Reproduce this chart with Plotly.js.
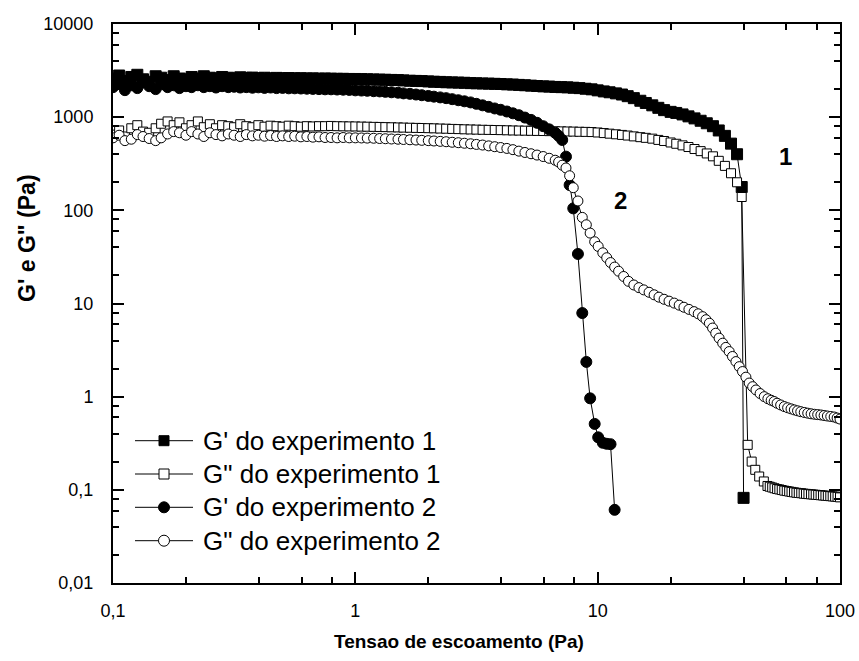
<!DOCTYPE html>
<html>
<head>
<meta charset="utf-8">
<script src="https://cdn.plot.ly/plotly-3.0.1.min.js"></script>
<style>html,body{margin:0;padding:0;background:#fff;}#chart{width:859px;height:661px;}</style>
</head>
<body>
<div id="chart"></div>
<script>
// ---- Experiment 1: stress (Pa) ----
const stress1 = [0.1,0.106,0.112,0.119,0.126,0.133,0.141,0.15,0.158,0.168,
  0.178,0.188,0.2,0.211,0.224,0.237,0.251,0.266,0.282,0.299,
  0.316,0.335,0.355,0.376,0.398,0.422,0.447,0.473,0.501,0.531,
  0.562,0.596,0.631,0.668,0.708,0.75,0.794,0.841,0.891,0.944,
  1,1.06,1.12,1.19,1.26,1.33,1.41,1.5,1.58,1.68,
  1.78,1.88,2,2.11,2.24,2.37,2.51,2.66,2.82,2.99,
  3.16,3.35,3.55,3.76,3.98,4.22,4.47,4.73,5.01,5.31,
  5.62,5.96,6.31,6.68,7.08,7.5,7.94,8.41,8.91,9.44,
  10,10.6,11.2,11.9,12.6,13.3,14.1,15,15.8,16.8,
  17.8,18.8,20,21.1,22.4,23.7,25.1,26.6,28.2,29.9,
  31.6,33.5,35.5,37.6,39.3,40.0,41.6,43.2,44.7,46.4,48.5,50.2,
  51.3,52.5,53.7,55.0,56.2,57.5,58.9,60.3,61.7,63.1,
  64.6,66.1,67.6,69.2,70.8,72.4,74.1,75.9,77.6,79.4,
  81.3,83.2,85.1,87.1,89.1,91.2,93.3,95.5,97.7,100];

// G' experiment 1 (Pa)
const gp1 = [2600,2800,2450,2700,2850,2550,2400,2750,2650,2500,
  2750,2600,2550,2700,2600,2750,2650,2600,2700,2650,
  2600,2680,2640,2660,2620,2650,2610,2640,2620,2630,
  2610,2620,2600,2610,2590,2600,2590,2580,2580,2570,
  2570,2560,2550,2540,2530,2520,2510,2500,2480,2460,
  2450,2440,2420,2400,2390,2370,2360,2350,2340,2320,
  2310,2300,2290,2280,2270,2250,2240,2220,2200,2180,
  2160,2140,2130,2110,2100,2090,2070,2050,2020,1990,
  1940,1890,1850,1800,1750,1680,1600,1500,1420,1340,
  1260,1190,1140,1110,1070,1020,970,915,860,800,
  720,630,520,400,178,0.082];

// G'' experiment 1 (Pa)
const gpp1 = [650,720,620,760,820,700,680,760,850,900,
  820,880,760,820,900,780,840,760,820,800,
  780,840,800,780,820,790,810,800,790,810,
  800,790,800,795,800,800,805,800,798,796,
  795,792,790,787,785,782,779,776,773,770,
  767,765,762,759,755,752,748,745,741,738,
  735,732,730,728,726,723,720,718,716,714,
  712,710,708,706,704,702,700,697,695,692,
  685,675,665,655,645,635,622,610,600,588,
  570,555,535,518,498,478,455,432,408,380,
  340,300,250,200,139,null,0.304,0.201,0.164,0.139,0.123,0.110,
  0.108,0.106,0.104,0.102,0.101,0.0995,0.098,0.097,0.096,0.095,
  0.094,0.093,0.0925,0.092,0.091,0.0905,0.090,0.0895,0.089,0.0885,
  0.088,0.0875,0.087,0.0865,0.086,0.0855,0.085,0.0845,0.084,0.083];

// ---- Experiment 2: stress (Pa) ----
const stress2 = [0.1,0.106,0.112,0.119,0.126,0.133,0.141,0.15,0.158,0.168,
  0.178,0.188,0.2,0.211,0.224,0.237,0.251,0.266,0.282,0.299,
  0.316,0.335,0.355,0.376,0.398,0.422,0.447,0.473,0.501,0.531,
  0.562,0.596,0.631,0.668,0.708,0.75,0.794,0.841,0.891,0.944,
  1,1.06,1.12,1.19,1.26,1.33,1.41,1.5,1.58,1.68,
  1.78,1.88,2,2.11,2.24,2.37,2.51,2.66,2.82,2.99,
  3.16,3.35,3.55,3.76,3.98,4.22,4.47,4.73,5.01,5.31,
  5.62,5.96,6.31,6.68,
  6.9,7.14,7.4,7.66,7.93,8.29,8.64,8.98,9.31,9.72,10.05,10.5,10.9,11.3,11.75,
  12.2,12.8,13.4,14.1,14.8,15.5,16.3,17.1,17.9,18.8,
  19.7,20.7,21.7,22.7,23.8,25.0,26.0,27.1,28.0,28.9,
  29.8,30.7,31.7,32.8,33.8,34.9,36.0,37.2,38.4,39.6,
  40.9,42.2,43.6,45.0,46.8,48.7,50.4,52.0,53.5,55.0,
  56.9,58.9,60.8,62.8,64.8,66.8,68.9,71.2,73.6,76.0,
  78.5,80.9,83.4,86.0,88.7,91.6,94.6,97.3,100];

// G' experiment 2 (Pa)
const gp2 = [2100,2300,1950,2200,2050,2350,2150,2000,2250,2100,
  2200,2050,2150,2100,2200,2100,2150,2080,2150,2100,
  2120,2080,2100,2070,2090,2060,2080,2050,2060,2040,
  2040,2030,2020,2010,2000,1990,1990,1980,1970,1960,
  1940,1930,1920,1900,1890,1870,1850,1830,1800,1780,
  1750,1720,1690,1660,1630,1600,1560,1520,1480,1440,
  1390,1340,1290,1240,1200,1150,1100,1050,990,935,
  870,800,740,680,
  630,569,377,187,105,34,7.9,2.36,0.96,0.51,0.366,0.32,0.312,0.309,0.061];

// G'' experiment 2 (Pa)
const gpp2 = [600,640,560,580,650,620,590,560,600,660,
  700,680,640,700,660,620,680,650,630,660,
  640,620,650,630,640,625,635,620,630,620,
  625,615,620,610,615,605,605,600,605,600,
  600,598,596,594,590,587,583,580,576,572,
  568,564,560,555,550,545,538,532,525,518,
  510,502,492,482,472,462,448,432,418,405,
  392,378,362,345,
  330,305,285,235,175,126,84,70,57,46,41,35,31,27.5,24.6,
  22.2,19.5,17.3,15.8,14.8,14.0,13.2,12.4,11.7,11.1,
  10.6,10.1,9.6,9.12,8.65,8.18,7.75,7.22,6.7,6.14,
  5.45,4.80,4.25,3.75,3.38,3.05,2.70,2.38,2.10,1.86,
  1.62,1.40,1.28,1.18,1.08,1.00,0.95,0.915,0.887,0.85,
  0.815,0.783,0.76,0.74,0.721,0.705,0.69,0.677,0.665,0.655,
  0.647,0.642,0.636,0.628,0.62,0.613,0.605,0.59,0.575];

const seriesNames = ["G' do experimento 1", 'G" do experimento 1', "G' do experimento 2", 'G" do experimento 2'];
const xTickVals = [0.1, 1, 10, 100];
const xTickText = ['0,1', '1', '10', '100'];
const yTickVals = [0.01, 0.1, 1, 10, 100, 1000, 10000];
const yTickText = ['0,01', '0,1', '1', '10', '100', '1000', '10000'];
const curveLabels = ['1', '2'];
const curveLabelX = [59.8, 12.4];
const curveLabelY = [374, 129];

// ---- styling / geometry (not data) ----
const W = 859, H = 661, ML = 113, MR = 19, MT = 24, MB = 78;
const PW = W - ML - MR, PH = H - MT - MB;
const px2x = p => (p - ML) / PW;          // pixel -> paper x
const py2y = p => (H - MB - p) / PH;      // pixel -> paper y

const markerStyles = [
  {symbol: 'square', size: 11, color: 'black', line: {color: 'black', width: 1}},
  {symbol: 'square', size: 9, color: 'white', line: {color: 'black', width: 1}},
  {symbol: 'circle', size: 11, color: 'black', line: {color: 'black', width: 1}},
  {symbol: 'circle', size: 10, color: 'white', line: {color: 'black', width: 1}}
];
const legendMarkerSizes = [9, 9, 10, 10];

function minorTicks(decades) {
  const out = [];
  decades.forEach(d => [2, 4, 6, 8].forEach(m => out.push(+(m * d).toPrecision(3))));
  return out;
}

const lineStyle = {color: 'black', width: 1};
const traces = [
  {x: stress1, y: gp1, name: seriesNames[0], mode: 'lines+markers', line: lineStyle, marker: markerStyles[0]},
  {x: stress1, y: gpp1, name: seriesNames[1], mode: 'lines+markers', line: lineStyle, connectgaps: true, marker: markerStyles[1]},
  {x: stress2, y: gp2, name: seriesNames[2], mode: 'lines+markers', line: lineStyle, marker: markerStyles[2]},
  {x: stress2, y: gpp2, name: seriesNames[3], mode: 'lines+markers', line: lineStyle, marker: markerStyles[3]}
];

const font = 'Arial, "Liberation Sans", sans-serif';

// hand-placed legend (line + symbol + text), Origin style
const legendRowsPx = [440.7, 474, 507.3, 540.7];
const legLineX0 = 135, legLineX1 = 193, legMarkX = 164, legTextX = 201;
const shapes = [];
const annotations = [];
seriesNames.forEach((nm, i) => {
  const yp = legendRowsPx[i];
  shapes.push({type: 'line', xref: 'paper', yref: 'paper', x0: px2x(legLineX0), x1: px2x(legLineX1),
               y0: py2y(yp), y1: py2y(yp), line: {color: 'black', width: 1}});
  const ms = markerStyles[i];
  const r = (legendMarkerSizes[i] + 1) / 2;
  shapes.push({type: ms.symbol === 'square' ? 'rect' : 'circle', xref: 'paper', yref: 'paper',
               x0: px2x(legMarkX - r), x1: px2x(legMarkX + r), y0: py2y(yp + r), y1: py2y(yp - r),
               fillcolor: ms.color, line: {color: 'black', width: 1}});
  annotations.push({xref: 'paper', yref: 'paper', x: px2x(legTextX), y: py2y(yp), xanchor: 'left', yanchor: 'middle',
                    showarrow: false, text: nm, font: {size: 26, family: font, color: 'black'}});
});

annotations.push(
  {xref: 'paper', yref: 'paper', x: px2x(459), y: py2y(641), xanchor: 'center', yanchor: 'middle', showarrow: false,
   text: '<b>Tensao de escoamento (Pa)</b>', font: {size: 19, family: font, color: 'black'}},
  {xref: 'paper', yref: 'paper', x: px2x(27), y: py2y(238), xanchor: 'center', yanchor: 'middle', showarrow: false,
   textangle: -90, text: '<b>G\' e G" (Pa)</b>', font: {size: 23, family: font, color: 'black'}},
  {xref: 'x', yref: 'y', x: Math.log10(curveLabelX[0]), y: Math.log10(curveLabelY[0]), showarrow: false,
   text: '<b>' + curveLabels[0] + '</b>', font: {size: 24, family: font, color: 'black'}},
  {xref: 'x', yref: 'y', x: Math.log10(curveLabelX[1]), y: Math.log10(curveLabelY[1]), showarrow: false,
   text: '<b>' + curveLabels[1] + '</b>', font: {size: 24, family: font, color: 'black'}}
);

const axisCommon = {
  type: 'log', tickmode: 'array', ticks: 'inside', ticklen: 11, tickwidth: 2, tickcolor: 'black',
  showline: true, linewidth: 2, linecolor: 'black', mirror: 'ticks', showgrid: false, zeroline: false,
  tickfont: {size: 18, family: font, color: 'black'}
};

const layout = {
  width: W, height: H,
  margin: {l: ML, r: MR, t: MT, b: MB, pad: 0},
  paper_bgcolor: 'white', plot_bgcolor: 'white',
  font: {family: font, color: 'black'},
  showlegend: false,
  xaxis: Object.assign({}, axisCommon, {
    range: [-1, 2], tickvals: xTickVals, ticktext: xTickText, ticklabelstandoff: 10,
    minor: {tickvals: minorTicks([0.1, 1, 10]), ticks: 'inside', ticklen: 6, tickwidth: 2, tickcolor: 'black', showgrid: false}
  }),
  yaxis: Object.assign({}, axisCommon, {
    range: [-2, 4], tickvals: yTickVals, ticktext: yTickText, ticklabelstandoff: 14,
    minor: {tickvals: minorTicks([0.01, 0.1, 1, 10, 100, 1000]), ticks: 'inside', ticklen: 6, tickwidth: 2, tickcolor: 'black', showgrid: false}
  }),
  shapes: shapes,
  annotations: annotations
};

Plotly.newPlot('chart', traces, layout, {displayModeBar: false, staticPlot: true});
</script>
</body>
</html>
